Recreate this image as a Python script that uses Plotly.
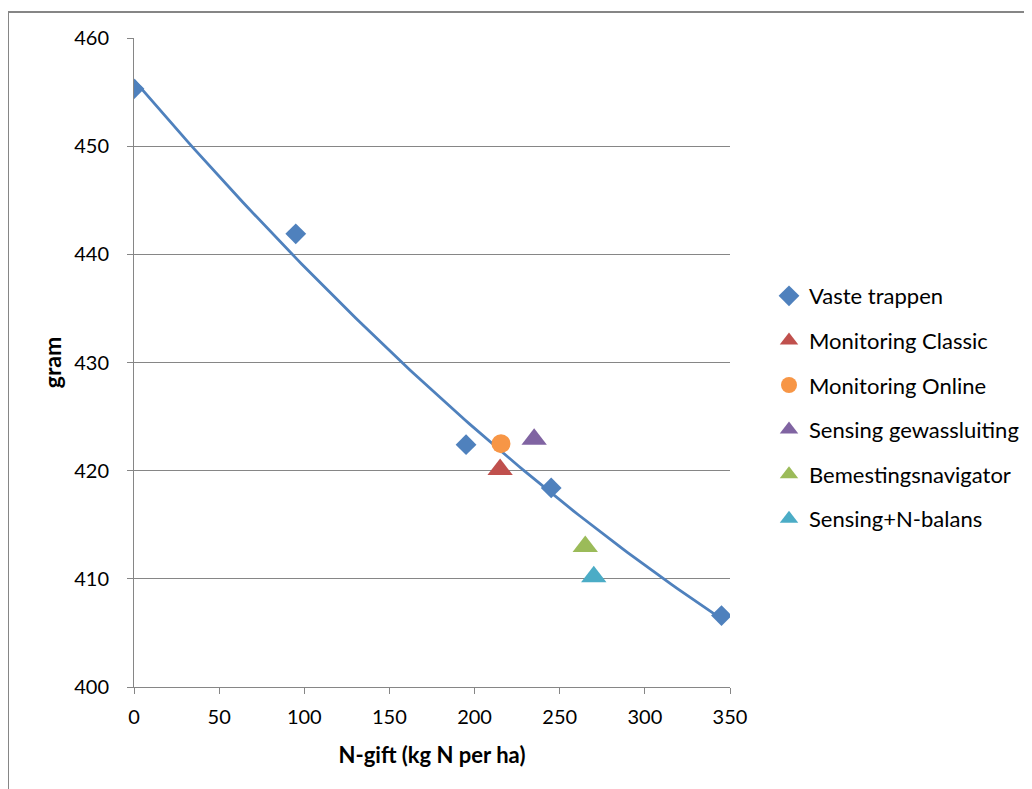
import numpy as np
import plotly.graph_objects as go

# Data
vt_x = [0, 95, 195, 245, 345]
vt_y = [455.3, 441.9, 422.4, 418.4, 406.6]

series_names = ["Monitoring Classic", "Monitoring Online", "Sensing gewassluiting",
                "Bemestingsnavigator", "Sensing+N-balans"]
series_x = [215, 215.5, 235, 265, 270]
series_y = [420.1, 422.5, 422.9, 413.0, 410.2]
series_symbols = ["triangle-up", "circle", "triangle-up", "triangle-up", "triangle-up"]
series_colors = ["#C0504D", "#F79646", "#8064A2", "#9BBB59", "#4BACC6"]

x_ticks = [0, 50, 100, 150, 200, 250, 300, 350]
y_ticks = [400, 410, 420, 430, 440, 450, 460]

FONT = "Lato, Carlito, Calibri, sans-serif"
BLUE = "#4F81BD"
GRID = "#868686"

fig = go.Figure()

# Polynomial trendline (order 2) from Vaste trappen
coef = np.polyfit(vt_x, vt_y, 2)
tx = np.linspace(0, 345, 120)
ty = np.polyval(coef, tx)
fig.add_trace(go.Scatter(x=tx, y=ty, mode="lines", line=dict(color=BLUE, width=2.8),
                         showlegend=False, hoverinfo="skip"))

fig.add_trace(go.Scatter(x=vt_x, y=vt_y, mode="markers", name="Vaste trappen",
                         legendgroup="g0",
                         marker=dict(symbol="diamond", size=16, color=BLUE,
                                     line=dict(width=0))))

for i, (n, x, y, s, c) in enumerate(zip(series_names, series_x, series_y,
                                         series_symbols, series_colors)):
    fig.add_trace(go.Scatter(x=[x], y=[y], mode="markers", name=n,
                             legendgroup=f"g{i+1}",
                             marker=dict(symbol=s, size=19 if s == "circle" else 22,
                                         color=c, line=dict(width=0))))

# page body has an 8px margin; figure coords = screen coords - 8
OFF = 8
W, H = 1032, 789
L, T = 134 - OFF, 38 - OFF
pw, ph = 596, 649
R = W - L - pw
B = H - T - ph

def px_x(sx):
    return (sx - OFF - L) / pw

def px_y(sy):
    return (H - (sy - OFF) - B) / ph

fig.update_layout(
    width=W, height=H,
    margin=dict(l=L, r=R, t=T, b=B),
    paper_bgcolor="white", plot_bgcolor="white",
    font=dict(family=FONT, size=20, color="#000000"),
    showlegend=True,
    legend=dict(x=px_x(769), y=px_y(275), xanchor="left", yanchor="top",
                font=dict(family=FONT, size=22, color="#000000"),
                tracegroupgap=13, itemwidth=30, bgcolor="rgba(0,0,0,0)"),
    xaxis=dict(range=[0, 350], tickvals=x_ticks, showgrid=False,
               showline=True, linecolor=GRID, linewidth=1,
               ticks="outside", ticklen=6, tickcolor=GRID,
               ticklabelstandoff=6,
               tickfont=dict(family=FONT, size=20),
               title=dict(text="<b>N-gift (kg N per ha)</b>", font=dict(family=FONT, size=22),
                          standoff=20),
               zeroline=False, fixedrange=True),
    yaxis=dict(range=[400, 460], tickvals=y_ticks, showgrid=True, gridcolor=GRID,
               gridwidth=1, showline=True, linecolor=GRID, linewidth=1,
               ticks="outside", ticklen=6, tickcolor=GRID,
               ticklabelstandoff=14,
               tickfont=dict(family=FONT, size=20),
               title=dict(text="<b>gram</b>", font=dict(family=FONT, size=23), standoff=6),
               zeroline=False, fixedrange=True),
)

# Outer chart-area border (extends beyond the window on right/bottom)
fig.add_shape(type="rect", xref="paper", yref="paper",
              x0=px_x(8), x1=px_x(W + 40),
              y0=px_y(H + 40), y1=px_y(12),
              line=dict(color=GRID, width=2), fillcolor="rgba(0,0,0,0)", layer="below")

fig.write_html("out.html")
